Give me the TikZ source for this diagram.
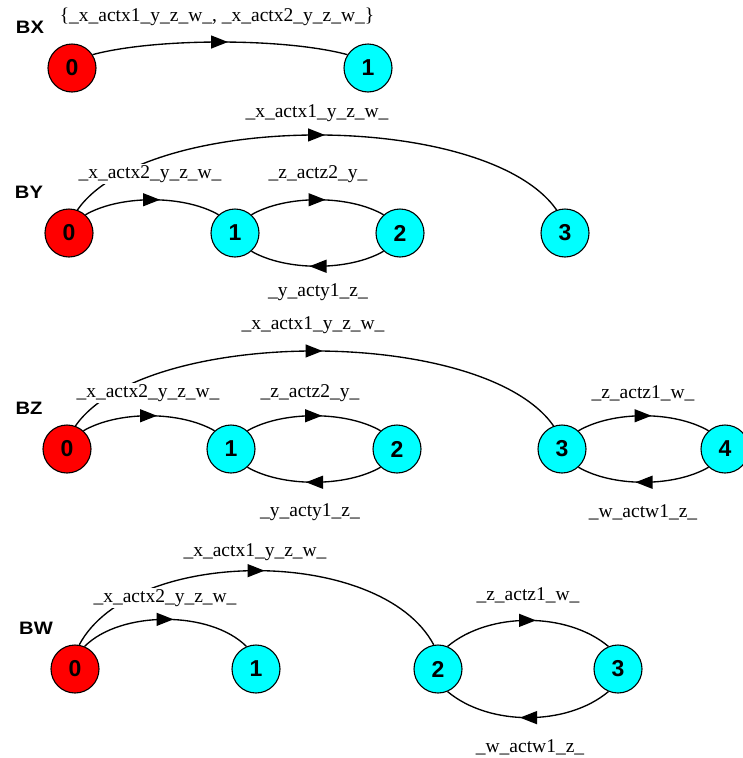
\documentclass[tikz,border=0pt]{standalone}
\usepackage{fontspec}
\setmainfont{Liberation Serif}
\newfontfamily\rowfont[FakeStretch=1.12]{Liberation Sans}
\newfontfamily\numfont{Liberation Sans}
\usetikzlibrary{arrows.meta,decorations.markings}
\definecolor{initred}{HTML}{FF0000}
\definecolor{statecyan}{HTML}{00FFFF}

\begin{document}
\begin{tikzpicture}[x=1pt,y=1pt,
  state/.style={circle, draw=black, line width=1.1pt, minimum size=48pt, inner sep=0pt,
    font=\numfont\bfseries\fontsize{23}{23}\selectfont},
  init/.style={state, fill=initred},
  other/.style={state, fill=statecyan},
  trans/.style={line width=1.35pt, postaction={decorate},
    decoration={markings, mark=at position 0.5 with {\arrow[xshift=8pt]{Triangle[length=17pt,width=13pt]}}}},
  lbl/.style={fill=white, inner sep=1.5pt, font=\fontsize{19.5}{20}\selectfont},
  rowname/.style={inner sep=0pt, font=\rowfont\bfseries\fontsize{18}{18}\selectfont}]

\useasboundingbox[fill=white] (0,0) rectangle (742,-758);

% ---------- BX ----------
\node[rowname] (nbx) at (30,-27) {BX};
\node[init]  (bx0) at (72,-68)  {0};
\node[other] (bx1) at (368,-68) {1};
\draw[trans] (bx0.33) .. controls +(15:65) and +(165:65) .. (bx1.147);
\node[lbl] (lbx01) at (217,-17) {\{\_x\_actx1\_y\_z\_w\_, \_x\_actx2\_y\_z\_w\_\}};

% ---------- BY ----------
\node[rowname] (nby) at (29,-192) {BY};
\node[init]  (by0) at (69,-233)  {0};
\node[other] (by1) at (235,-233) {1};
\node[other] (by2) at (400,-233) {2};
\node[other] (by3) at (565,-233) {3};
\draw[trans] (by0.48) .. controls +(30:40) and +(150:40) .. (by1.132);
\draw[trans] (by1.48) .. controls +(30:40) and +(150:40) .. (by2.132);
\draw[trans] (by2.-132) .. controls +(-150:40) and +(-30:40) .. (by1.-48);
\draw[trans] (by0.70) .. controls +(55:122) and +(125:122) .. (by3.110);
\node[lbl] (lby03) at (317,-113) {\_x\_actx1\_y\_z\_w\_};
\node[lbl] (lby01) at (150,-174) {\_x\_actx2\_y\_z\_w\_};
\node[lbl] (lby12) at (318,-174) {\_z\_actz2\_y\_};
\node[lbl] (lby21) at (318,-292) {\_y\_acty1\_z\_};

% ---------- BZ ----------
\node[rowname] (nbz) at (29,-408) {BZ};
\node[init]  (bz0) at (67,-449)  {0};
\node[other] (bz1) at (231,-449) {1};
\node[other] (bz2) at (397,-449) {2};
\node[other] (bz3) at (562,-449) {3};
\node[other] (bz4) at (725,-449) {4};
\draw[trans] (bz0.48) .. controls +(30:40) and +(150:40) .. (bz1.132);
\draw[trans] (bz1.48) .. controls +(30:40) and +(150:40) .. (bz2.132);
\draw[trans] (bz2.-132) .. controls +(-150:40) and +(-30:40) .. (bz1.-48);
\draw[trans] (bz0.70) .. controls +(55:122) and +(125:122) .. (bz3.110);
\draw[trans] (bz3.48) .. controls +(30:40) and +(150:40) .. (bz4.132);
\draw[trans] (bz4.-132) .. controls +(-150:40) and +(-30:40) .. (bz3.-48);
\node[lbl] (lbz03) at (313,-325) {\_x\_actx1\_y\_z\_w\_};
\node[lbl] (lbz01) at (148,-393) {\_x\_actx2\_y\_z\_w\_};
\node[lbl] (lbz12) at (310,-393) {\_z\_actz2\_y\_};
\node[lbl] (lbz21) at (310,-512) {\_y\_acty1\_z\_};
\node[lbl] (lbz34) at (643,-393) {\_z\_actz1\_w\_};
\node[lbl] (lbz43) at (643,-512) {\_w\_actw1\_z\_};

% ---------- BW ----------
\node[rowname] (nbw) at (36,-628) {BW};
\node[init]  (bw0) at (75,-669)  {0};
\node[other] (bw1) at (256,-669) {1};
\node[other] (bw2) at (438,-669) {2};
\node[other] (bw3) at (618,-669) {3};
\draw[trans] (bw0.67) .. controls +(45:51) and +(135:51) .. (bw1.113);
\draw[trans] (bw0.80) .. controls +(62:112) and +(118:112) .. (bw2.100);
\draw[trans] (bw2.67) .. controls +(40:54) and +(140:54) .. (bw3.113);
\draw[trans] (bw3.-113) .. controls +(-140:54) and +(-40:54) .. (bw2.-67);
\node[lbl] (lbw02) at (255,-552) {\_x\_actx1\_y\_z\_w\_};
\node[lbl] (lbw01) at (165,-598) {\_x\_actx2\_y\_z\_w\_};
\node[lbl] (lbw23) at (528,-595) {\_z\_actz1\_w\_};
\node[lbl] (lbw32) at (530,-747) {\_w\_actw1\_z\_};
\end{tikzpicture}
\end{document}
